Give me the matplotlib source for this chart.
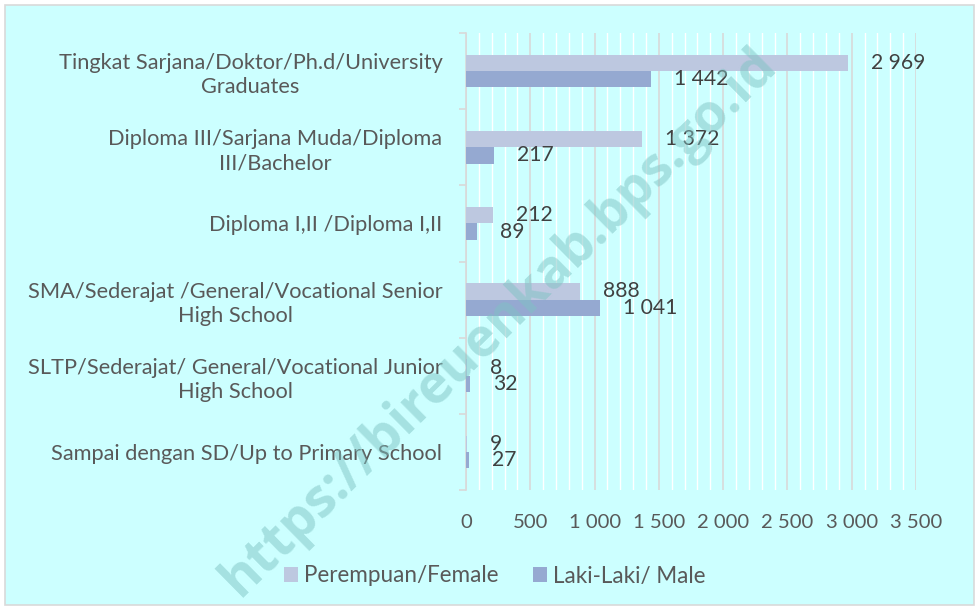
import matplotlib
matplotlib.use("Agg")
import matplotlib.pyplot as plt
from matplotlib.ticker import MultipleLocator, FuncFormatter
from matplotlib.patches import Rectangle
from matplotlib.font_manager import FontProperties
from matplotlib.textpath import TextPath
import numpy as np

categories = [
    "Tingkat Sarjana/Doktor/Ph.d/University\nGraduates",
    "Diploma III/Sarjana Muda/Diploma\nIII/Bachelor",
    "Diploma I,II /Diploma I,II",
    "SMA/Sederajat /General/Vocational Senior\nHigh School",
    "SLTP/Sederajat/ General/Vocational Junior\nHigh School",
    "Sampai dengan SD/Up to Primary School",
]
female = [2969, 1372, 212, 888, 8, 9]
male = [1442, 217, 89, 1041, 32, 27]
series_names = ["Perempuan/Female", "Laki-Laki/ Male"]
watermark = "https://bireuenkab.bps.go.id"

BG = "#CCFFFF"
C_F = "#BDC8E0"
C_M = "#95A9D1"
TXT = "#595959"
FONT = "Lato"
WM_FONT = "Open Sans"
DPI = 100

plt.rcParams["font.family"] = [FONT, "DejaVu Sans"]


def fmt(v):
    return f"{int(v):,}".replace(",", " ")


def fit_size(text, target_px, family=FONT, weight="normal"):
    """font size (pt) so that text spans about target_px pixels"""
    fp = FontProperties(family=family, weight=weight, size=10)
    w = TextPath((0, 0), text, prop=fp).get_extents().width  # in points at 10pt
    return 10 * (target_px * 72 / DPI) / w


SZ_Y = fit_size("Tingkat Sarjana/Doktor/Ph.d/University", 384)
SZ_LEG = fit_size("Perempuan/Female", 192)
SZ_X = fit_size("1 000", 50)
SZ_DL = fit_size("2 969", 52)
SZ_WM = fit_size(watermark, 750, family=WM_FONT, weight="bold")

W, H = 979, 609
fig = plt.figure(figsize=(W / DPI, H / DPI), dpi=DPI)
fig.patch.set_facecolor("white")
fig.add_artist(Rectangle((5 / W, 4 / H), 969 / W, 600 / H, transform=fig.transFigure,
                         facecolor=BG, edgecolor="#D9D9D9", linewidth=1.2, zorder=-10))

left, right, top, bottom = 466, 916, 33, 490
ax = fig.add_axes([left / W, 1 - bottom / H, (right - left) / W, (bottom - top) / H])
ax.set_facecolor(BG)

n = len(categories)
y = np.arange(n)
bh = 0.215
ax.barh(y - bh / 2, female, height=bh, color=C_F, label=series_names[0], zorder=3)
ax.barh(y + bh / 2, male, height=bh, color=C_M, label=series_names[1], zorder=3)

ax.set_xlim(0, 3500)
ax.set_ylim(n - 0.5, -0.5)

ax.xaxis.set_major_locator(MultipleLocator(500))
ax.xaxis.set_minor_locator(MultipleLocator(100))
ax.xaxis.set_major_formatter(FuncFormatter(lambda v, p: fmt(v)))
ax.grid(axis="x", which="minor", color="white", linewidth=1.0, zorder=1)
ax.grid(axis="x", which="major", color="#D9D9D9", linewidth=1.2, zorder=2)
ax.tick_params(axis="x", which="both", length=0, labelsize=SZ_X, labelcolor=TXT, pad=17.5)

ax.set_yticks(y)
ax.set_yticklabels(categories, fontsize=SZ_Y, color=TXT, multialignment="center",
                   linespacing=1.25)
ax.set_yticks(np.arange(n + 1) - 0.5, minor=True)
ax.tick_params(axis="y", which="major", length=0, pad=17)
ax.tick_params(axis="y", which="minor", length=5, color="#D9D9D9", width=1.2)

for s in ["top", "right", "bottom"]:
    ax.spines[s].set_visible(False)
ax.spines["left"].set_color("#D9D9D9")
ax.spines["left"].set_linewidth(1.2)

for i in range(n):
    ax.annotate(fmt(female[i]), (female[i], y[i] - bh / 2), xytext=(23, 0),
                textcoords="offset pixels", va="center", ha="left",
                fontsize=SZ_DL, color="#404040", zorder=5)
    ax.annotate(fmt(male[i]), (male[i], y[i] + bh / 2), xytext=(23, 0),
                textcoords="offset pixels", va="center", ha="left",
                fontsize=SZ_DL, color="#404040", zorder=5)

sq_px = 14
em_px = SZ_LEG * DPI / 72
leg = fig.legend(loc="center", bbox_to_anchor=(495 / W, 1 - 576 / H), ncol=2, frameon=False,
                 fontsize=SZ_LEG, handlelength=sq_px / em_px, handleheight=sq_px / em_px,
                 handletextpad=6 / em_px, columnspacing=34 / em_px, labelcolor=TXT)

fig.text(499 / W, 1 - 322 / H, watermark, rotation=44.6,
         ha="center", va="center", fontsize=SZ_WM, fontweight="bold",
         family=[WM_FONT, "DejaVu Sans"],
         color="#7EC3C3", alpha=0.5, zorder=20)

fig.savefig("out.png", dpi=DPI, facecolor="white")
